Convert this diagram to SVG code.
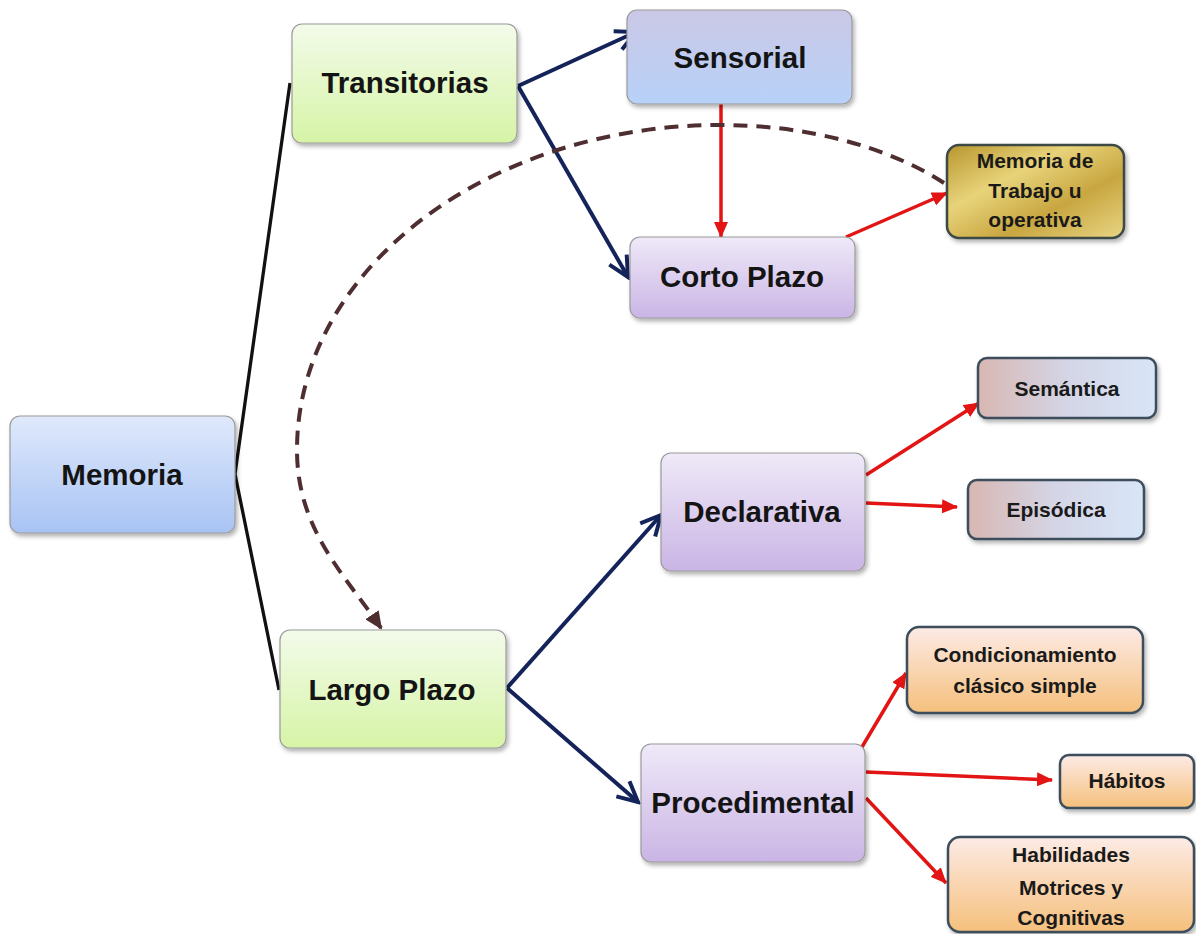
<svg xmlns="http://www.w3.org/2000/svg" width="1196" height="934" viewBox="0 0 1196 934">
<defs>
<style>
.big{font-family:"Liberation Sans",Arial,sans-serif;font-weight:bold;font-size:29.5px;fill:#141414;text-anchor:middle}
.sm{font-family:"Liberation Sans",Arial,sans-serif;font-weight:bold;font-size:21px;fill:#1a1a1a;text-anchor:middle}
.bx{stroke:#9a9a9a;stroke-width:1.2;filter:url(#sh)}
.bx2{stroke:#3c4d5c;stroke-width:2.5;filter:url(#sh)}
.navy{fill:none;stroke:#14245a;stroke-width:4;marker-end:url(#open)}
.red{fill:none;stroke:#e21414;stroke-width:3.5;marker-end:url(#tri)}
</style>
<filter id="sh" x="-10%" y="-10%" width="125%" height="130%">
<feDropShadow dx="2" dy="3" stdDeviation="2" flood-color="#000" flood-opacity="0.3"/>
</filter>
<linearGradient id="gBlue" x1="0" y1="0" x2="0" y2="1"><stop offset="0" stop-color="#dfe9fb"/><stop offset="1" stop-color="#a8c3f4"/></linearGradient>
<linearGradient id="gGreen" x1="0" y1="0" x2="0" y2="1"><stop offset="0" stop-color="#f3fbea"/><stop offset="1" stop-color="#d6f4a6"/></linearGradient>
<linearGradient id="gSens" x1="0" y1="0" x2="0" y2="1"><stop offset="0" stop-color="#cbc8e6"/><stop offset="1" stop-color="#b7d1f8"/></linearGradient>
<linearGradient id="gLav" x1="0" y1="0" x2="0" y2="1"><stop offset="0" stop-color="#efe9f8"/><stop offset="1" stop-color="#cab5e5"/></linearGradient>
<linearGradient id="gGold" x1="0" y1="0" x2="1" y2="1"><stop offset="0" stop-color="#b8962e"/><stop offset="0.35" stop-color="#e8d37a"/><stop offset="0.65" stop-color="#c8a640"/><stop offset="1" stop-color="#e9d684"/></linearGradient>
<linearGradient id="gSem" x1="0" y1="0" x2="1" y2="0"><stop offset="0" stop-color="#d8b7b2"/><stop offset="0.5" stop-color="#d4d5e6"/><stop offset="1" stop-color="#d8e6f7"/></linearGradient>
<linearGradient id="gOr" x1="0" y1="0" x2="0" y2="1"><stop offset="0" stop-color="#fdebe6"/><stop offset="1" stop-color="#f5c07c"/></linearGradient>
<marker id="open" markerUnits="userSpaceOnUse" markerWidth="26" markerHeight="26" viewBox="0 0 26 26" refX="23" refY="13" orient="auto"><path d="M3,3 L23,13 L3,23" fill="none" stroke="#14245a" stroke-width="4"/></marker>
<marker id="tri" markerUnits="userSpaceOnUse" markerWidth="16" markerHeight="14" viewBox="0 0 16 14" refX="15" refY="7" orient="auto"><path d="M0,0 L16,7 L0,14 Z" fill="#e21414"/></marker>
<marker id="brown" markerUnits="userSpaceOnUse" markerWidth="18" markerHeight="16" viewBox="0 0 18 16" refX="16" refY="8" orient="auto"><path d="M0,0 L18,8 L0,16 Z" fill="#4e2e30"/></marker>
</defs>
<rect width="1196" height="934" fill="#ffffff"/>
<g id="connectors">
<path d="M290,83 L235,474 L279,690" fill="none" stroke="#111" stroke-width="3.3"/>
<path class="navy" d="M518,86 L636,32"/>
<path class="navy" d="M518,86 L628,277"/>
<path class="navy" d="M507,688 L661,515"/>
<path class="navy" d="M507,688 L638,802"/>
<path class="red" d="M721,102 L721,237"/>
<path class="red" d="M846,237 L947,193"/>
<path class="red" d="M866,475 L979,403"/>
<path class="red" d="M866,503 L957,507"/>
<path class="red" d="M862,747 L906,673"/>
<path class="red" d="M866,772 L1052,780"/>
<path class="red" d="M866,798 L946,883"/>
<path d="M944,183 C890,148 810,125 721,125 C487,125 297,270 297,450 C297,530 345,575 381,628" fill="none" stroke="#4e2e30" stroke-width="4" stroke-dasharray="14 9" marker-end="url(#brown)"/>
</g>
<g id="memoria"><rect class="bx" x="10" y="416" width="225" height="117" rx="10" fill="url(#gBlue)"/><text class="big" x="122" y="485" font-size="31.5">Memoria</text></g>
<g id="transitorias"><rect class="bx" x="292" y="24" width="225" height="119" rx="10" fill="url(#gGreen)"/><text class="big" x="405" y="93">Transitorias</text></g>
<g id="largo"><rect class="bx" x="280" y="630" width="226" height="118" rx="10" fill="url(#gGreen)"/><text class="big" x="392" y="700">Largo Plazo</text></g>
<g id="sensorial"><rect class="bx" x="627" y="10" width="225" height="94" rx="10" fill="url(#gSens)"/><text class="big" x="740" y="68">Sensorial</text></g>
<g id="corto"><rect class="bx" x="630" y="237" width="225" height="81" rx="10" fill="url(#gLav)"/><text class="big" x="742" y="287">Corto Plazo</text></g>
<g id="trabajo"><rect x="947" y="145" width="177" height="93" rx="12" fill="url(#gGold)" stroke="#3d4a45" stroke-width="2.5" filter="url(#sh)"/><text class="sm" x="1035" y="168">Memoria de</text><text class="sm" x="1035" y="198">Trabajo u</text><text class="sm" x="1035" y="227">operativa</text></g>
<g id="declarativa"><rect class="bx" x="661" y="453" width="204" height="118" rx="10" fill="url(#gLav)"/><text class="big" x="762" y="522" font-size="30.5">Declarativa</text></g>
<g id="semantica"><rect class="bx2" x="978" y="358" width="178" height="60" rx="9" fill="url(#gSem)"/><text class="sm" x="1067" y="396">Semántica</text></g>
<g id="episodica"><rect class="bx2" x="968" y="480" width="176" height="59" rx="9" fill="url(#gSem)"/><text class="sm" x="1056" y="517">Episódica</text></g>
<g id="procedimental"><rect class="bx" x="641" y="744" width="224" height="118" rx="10" fill="url(#gLav)"/><text class="big" x="753" y="813" font-size="30.5">Procedimental</text></g>
<g id="condicionamiento"><rect class="bx2" x="907" y="627" width="236" height="86" rx="12" fill="url(#gOr)"/><text class="sm" x="1025" y="662" font-size="21.5">Condicionamiento</text><text class="sm" x="1025" y="693" font-size="21.5">clásico simple</text></g>
<g id="habitos"><rect class="bx2" x="1060" y="755" width="134" height="53" rx="9" fill="url(#gOr)"/><text class="sm" x="1127" y="788" font-size="22">Hábitos</text></g>
<g id="habilidades"><rect class="bx2" x="948" y="837" width="246" height="95" rx="12" fill="url(#gOr)"/><text class="sm" x="1071" y="862" font-size="22">Habilidades</text><text class="sm" x="1071" y="895" font-size="22">Motrices y</text><text class="sm" x="1071" y="925" font-size="22">Cognitivas</text></g>
</svg>
